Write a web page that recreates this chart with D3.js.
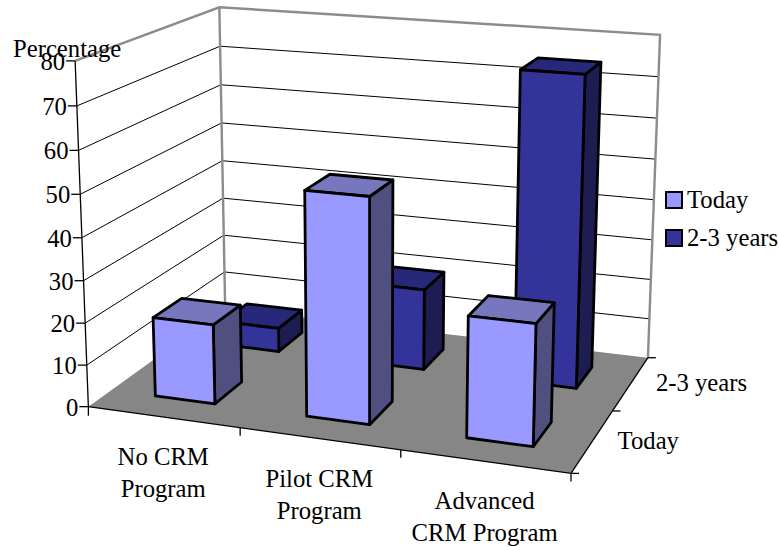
<!DOCTYPE html>
<html>
<head>
<meta charset="utf-8">
<style>
html,body{margin:0;padding:0;background:#fff}
svg{display:block}
text{font-family:"Liberation Serif","Times New Roman",serif;font-size:24.7px;fill:#000}
</style>
<script src="https://d3js.org/d3.v7.min.js"></script>
</head>
<body>
<div id="chart"></div>
<script>
const categories = ["No CRM Program", "Pilot CRM Program", "Advanced CRM Program"];
const categoryLines = [["No CRM", "Program"], ["Pilot CRM", "Program"], ["Advanced", "CRM Program"]];
const seriesNames = ["Today", "2-3 years"];
const todayValues = [19, 52.5, 28];
const futureValues = [6, 20, 74.8];
const valueTicks = [0, 10, 20, 30, 40, 50, 60, 70, 80];
const yAxisTitle = "Percentage";

const W = 779, H = 547;
const svg = d3.select("#chart").append("svg").attr("width", W).attr("height", H);

// Scales in normalised chart space: u across, v into the page, w upward
const uScale = d3.scaleBand().domain(categories).range([0, 1]).paddingInner(0.6).paddingOuter(0.3);
const vScale = d3.scaleBand().domain(seriesNames).range([0, 1]).paddingInner(0.6).paddingOuter(0.3);
const wScale = d3.scaleLinear().domain([0, 80]).range([0, 1]);

// Perspective camera fitted to the visible corners of the chart box
const anchors = [
  [0, 0, 0, 88.5, 406], [1, 0, 0, 571, 474], [0, 1, 0, 225, 309], [1, 1, 0, 648, 357],
  [0, 0, 1, 75, 61], [0, 1, 1, 219.5, 7], [1, 1, 1, 660, 35]
];
function solveCamera(pts) {
  const rows = [], rhs = [];
  pts.forEach(([u, v, w, x, y]) => {
    rows.push([u, v, w, 1, 0, 0, 0, 0, -x * u, -x * v, -x * w]); rhs.push(x);
    rows.push([0, 0, 0, 0, u, v, w, 1, -y * u, -y * v, -y * w]); rhs.push(y);
  });
  const n = 11;
  const A = d3.range(n).map(i => d3.range(n + 1).map(j =>
    j < n ? d3.sum(rows, r => r[i] * r[j]) : d3.sum(rows, (r, k) => r[i] * rhs[k])));
  for (let c = 0; c < n; c++) {
    let p = c;
    for (let r = c + 1; r < n; r++) if (Math.abs(A[r][c]) > Math.abs(A[p][c])) p = r;
    [A[c], A[p]] = [A[p], A[c]];
    for (let r = 0; r < n; r++) {
      if (r === c) continue;
      const f = A[r][c] / A[c][c];
      for (let k = c; k <= n; k++) A[r][k] -= f * A[c][k];
    }
  }
  return A.map((r, i) => r[n] / r[i]);
}
const cam = solveCamera(anchors);
function proj(u, v, w) {
  const d = cam[8] * u + cam[9] * v + cam[10] * w + 1;
  return [(cam[0] * u + cam[1] * v + cam[2] * w + cam[3]) / d,
          (cam[4] * u + cam[5] * v + cam[6] * w + cam[7]) / d];
}
const polyPath = pts => "M" + pts.map(p => p.join(",")).join("L") + "Z";
const segPath = (a, b) => "M" + a.join(",") + "L" + b.join(",");

const EDGE = "#8c8c8c", FLOOR = "#868686";

// Walls and floor
const box = svg.append("g");
box.append("path").attr("d", polyPath([proj(0,0,0), proj(1,0,0), proj(1,1,0), proj(0,1,0)])).attr("fill", FLOOR);

// Gridlines on the left and back walls
const grid = box.append("g").attr("fill", "none").attr("stroke", "#000").attr("stroke-width", 1);
valueTicks.filter(t => t > 0 && t < 80).forEach(t => {
  const w = wScale(t);
  grid.append("path").attr("d", "M" + [proj(0,0,w), proj(0,1,w), proj(1,1,w)].map(p => p.join(",")).join("L"));
});

// Wall edges
const edges = box.append("g").attr("fill", "none").attr("stroke", EDGE).attr("stroke-width", 2.4);
edges.append("path").attr("d", "M" + [proj(0,0,1), proj(0,1,1), proj(1,1,1), proj(1,1,0)].map(p => p.join(",")).join("L"));
edges.append("path").attr("d", segPath(proj(0,1,1), proj(0,1,0)));

// Axes
const axes = svg.append("g").attr("fill", "none").attr("stroke", "#000").attr("stroke-width", 1.3);
axes.append("path").attr("d", segPath(proj(0,0,1), proj(0,0,0)));
axes.append("path").attr("d", "M" + [proj(0,0,0), proj(1,0,0), proj(1,1,0)].map(p => p.join(",")).join("L"));

const tickLayer = svg.append("g");
valueTicks.forEach(t => {
  const [x, y] = proj(0, 0, wScale(t));
  axes.append("path").attr("d", `M${x - 9},${y}L${x},${y}`);
  tickLayer.append("text").attr("x", x - 10).attr("y", y + 9).attr("text-anchor", "end").text(t);
});
axes.append("path").attr("d", (() => { const [x, y] = proj(0,0,0); return `M${x},${y}L${x},${y + 9}`; })());

// Category ticks and labels
const catStep = uScale.step();
categories.forEach((c, i) => {
  const [x, y] = proj(catStep * (i + 1), 0, 0);
  axes.append("path").attr("d", `M${x},${y}L${x},${y + 8}`);
  const mid = proj(uScale(c) + uScale.bandwidth() / 2, 0, 0);
  const label = tickLayer.append("text").attr("text-anchor", "middle");
  categoryLines[i].forEach((line, k) => {
    label.append("tspan").attr("x", mid[0]).attr("y", mid[1] + 48 + k * 32).text(line);
  });
});

// Depth ticks and labels
seriesNames.forEach((s, i) => {
  const [x, y] = proj(1, (i + 1) / seriesNames.length, 0);
  axes.append("path").attr("d", `M${x},${y}L${x + 8},${y}`);
});
{
  const [x0, y0] = proj(1, 0, 0);
  axes.append("path").attr("d", `M${x0},${y0}L${x0 + 8},${y0}`);
}
seriesNames.forEach(s => {
  const [x, y] = proj(1, vScale(s) + vScale.bandwidth() / 2, 0);
  tickLayer.append("text").attr("x", x + 25).attr("y", y + 8).text(s);
});

// Bars, back to front
const palettes = {
  "Today": { front: "#9999ff", top: "#7777bd", side: "#4f4f80" },
  "2-3 years": { front: "#333399", top: "#28287a", side: "#1d1d52" }
};
const valuesBySeries = { "Today": todayValues, "2-3 years": futureValues };
const barLayer = svg.append("g").attr("stroke", "#000").attr("stroke-width", 2.8).attr("stroke-linejoin", "round");
[...seriesNames].reverse().forEach(s => {
  categories.forEach((c, i) => {
    const u0 = uScale(c), u1 = u0 + uScale.bandwidth();
    const v0 = vScale(s), v1 = v0 + vScale.bandwidth();
    const w1 = wScale(valuesBySeries[s][i]);
    const pal = palettes[s];
    barLayer.append("path").attr("fill", pal.side)
      .attr("d", polyPath([proj(u1,v0,0), proj(u1,v1,0), proj(u1,v1,w1), proj(u1,v0,w1)]));
    barLayer.append("path").attr("fill", pal.top)
      .attr("d", polyPath([proj(u0,v0,w1), proj(u1,v0,w1), proj(u1,v1,w1), proj(u0,v1,w1)]));
    barLayer.append("path").attr("fill", pal.front)
      .attr("d", polyPath([proj(u0,v0,0), proj(u1,v0,0), proj(u1,v0,w1), proj(u0,v0,w1)]));
  });
});

// Axis title
svg.append("text").attr("x", 13).attr("y", 57).text(yAxisTitle);

// Legend
const legendY = d3.scalePoint().domain(seriesNames).range([200, 238]);
const legend = svg.append("g");
seriesNames.forEach(s => {
  legend.append("rect").attr("x", 666).attr("y", legendY(s) - 8).attr("width", 16).attr("height", 16)
    .attr("fill", palettes[s].front).attr("stroke", "#000").attr("stroke-width", 2);
  legend.append("text").attr("x", 687).attr("y", legendY(s) + 8).text(s);
});
</script>
</body>
</html>
